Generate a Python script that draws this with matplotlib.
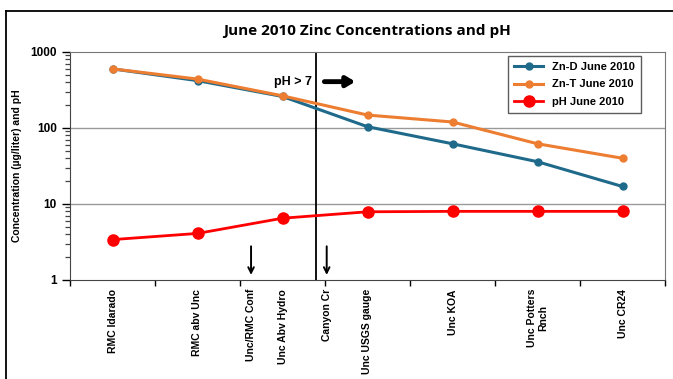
import numpy as np
import matplotlib.pyplot as plt
from matplotlib.lines import Line2D
from matplotlib.ticker import LogLocator, NullFormatter, FixedLocator

sites = ["RMC Idarado", "RMC abv Unc", "Unc Abv Hydro", "Unc USGS gauge",
         "Unc KOA", "Unc Potters\nRnch", "Unc CR24"]
zn_d = [600, 420, 260, 104, 62, 36, 17]
zn_t = [600, 440, 265, 148, 120, 62, 40]
ph = [3.4, 4.1, 6.5, 7.9, 8.0, 8.0, 8.0]

# extra sites marked with arrows (position along the site axis)
marker_sites = ["Unc/RMC Conf", "Canyon Cr"]
marker_pos = [1.63, 2.52]
ph7_pos = 2.39

plt.rcParams["font.family"] = ["Liberation Sans", "DejaVu Sans"]

fig = plt.figure(figsize=(6.73, 3.79), dpi=100)
ax = fig.add_axes([70 / 673, 1 - 280 / 379, 595 / 673, 228 / 379])

x = np.arange(len(sites))
ax.plot(x, zn_d, color="#1F6A8A", lw=2.2, marker="o", ms=5, label="Zn-D June 2010", zorder=3)
ax.plot(x, zn_t, color="#ED7D31", lw=2.2, marker="o", ms=5, label="Zn-T June 2010", zorder=3)
ax.plot(x, ph, color="#FF0000", lw=2.0, marker="o", ms=8, label="pH June 2010", zorder=3)

ax.set_yscale("log")
ax.set_ylim(1, 1000)
ax.set_xlim(-0.5, len(sites) - 0.5)
ax.yaxis.set_major_locator(FixedLocator([1, 10, 100, 1000]))
ax.set_yticklabels(["1", "10", "100", "1000"], fontweight="bold", fontsize=8.5)
ax.yaxis.set_minor_locator(LogLocator(base=10, subs=np.arange(2, 10), numticks=20))
ax.yaxis.set_minor_formatter(NullFormatter())
ax.tick_params(axis="y", which="major", length=6, direction="out", width=1)
ax.tick_params(axis="y", which="minor", length=3.5, direction="out", width=0.9,
               color="#444444", left=True)
for v in [10, 100]:
    ax.axhline(v, color="#999999", lw=1, zorder=1)

# category ticks sit between sites, labels at the site centres
ax.set_xticks(np.arange(-0.5, len(sites)), minor=False)
ax.set_xticklabels([])
ax.tick_params(axis="x", length=4, direction="out", width=1)
lab = sites + marker_sites
pos = list(x) + marker_pos
for p, t in zip(pos, lab):
    ax.text(p, -0.04, t, transform=ax.get_xaxis_transform(), rotation=90,
            ha="center", va="top", fontsize=7.5, fontweight="bold", multialignment="center")

for s in ["top", "right"]:
    ax.spines[s].set_color("#777777")
ax.spines["left"].set_color("#444444")
ax.spines["bottom"].set_color("#444444")

ax.set_ylabel("Concentration (µg/liter) and pH", fontsize=7.5, fontweight="bold")
ax.yaxis.set_label_coords(-0.08, 0.5)
ax.set_title("June 2010 Zinc Concentrations and pH", fontsize=11, fontweight="bold",
             pad=12, family=["Open Sans", "DejaVu Sans"])

# pH > 7 boundary and arrows
ax.axvline(ph7_pos, color="black", lw=1.3, zorder=2)
ax.text(ph7_pos - 0.05, 0.87, "pH > 7", transform=ax.get_xaxis_transform(),
        ha="right", va="center", fontsize=9, fontweight="bold")
ax.annotate("", xy=(ph7_pos + 0.5, 0.87), xytext=(ph7_pos + 0.07, 0.87),
            xycoords=ax.get_xaxis_transform(),
            arrowprops=dict(arrowstyle="-|>,head_length=0.5,head_width=0.3", lw=3.5, color="black"))
for p in marker_pos:
    ax.annotate("", xy=(p, 0.01), xytext=(p, 0.16), xycoords=ax.get_xaxis_transform(),
                arrowprops=dict(arrowstyle="->", lw=1.4, color="black"))

leg = ax.legend(loc="upper right", bbox_to_anchor=(0.96, 0.982), borderaxespad=0,
                prop={"weight": "bold", "size": 8}, frameon=True, fancybox=False,
                edgecolor="#333333", handlelength=2.6, borderpad=0.55, labelspacing=0.65)
leg.get_frame().set_linewidth(1.0)

# outer chart border
fig.add_artist(Line2D([6 / 673, 6 / 673], [0, 1 - 11 / 379], color="black", lw=1.3))
fig.add_artist(Line2D([6 / 673, 1], [1 - 11 / 379, 1 - 11 / 379], color="black", lw=1.3))

fig.savefig("out.png", dpi=100)
